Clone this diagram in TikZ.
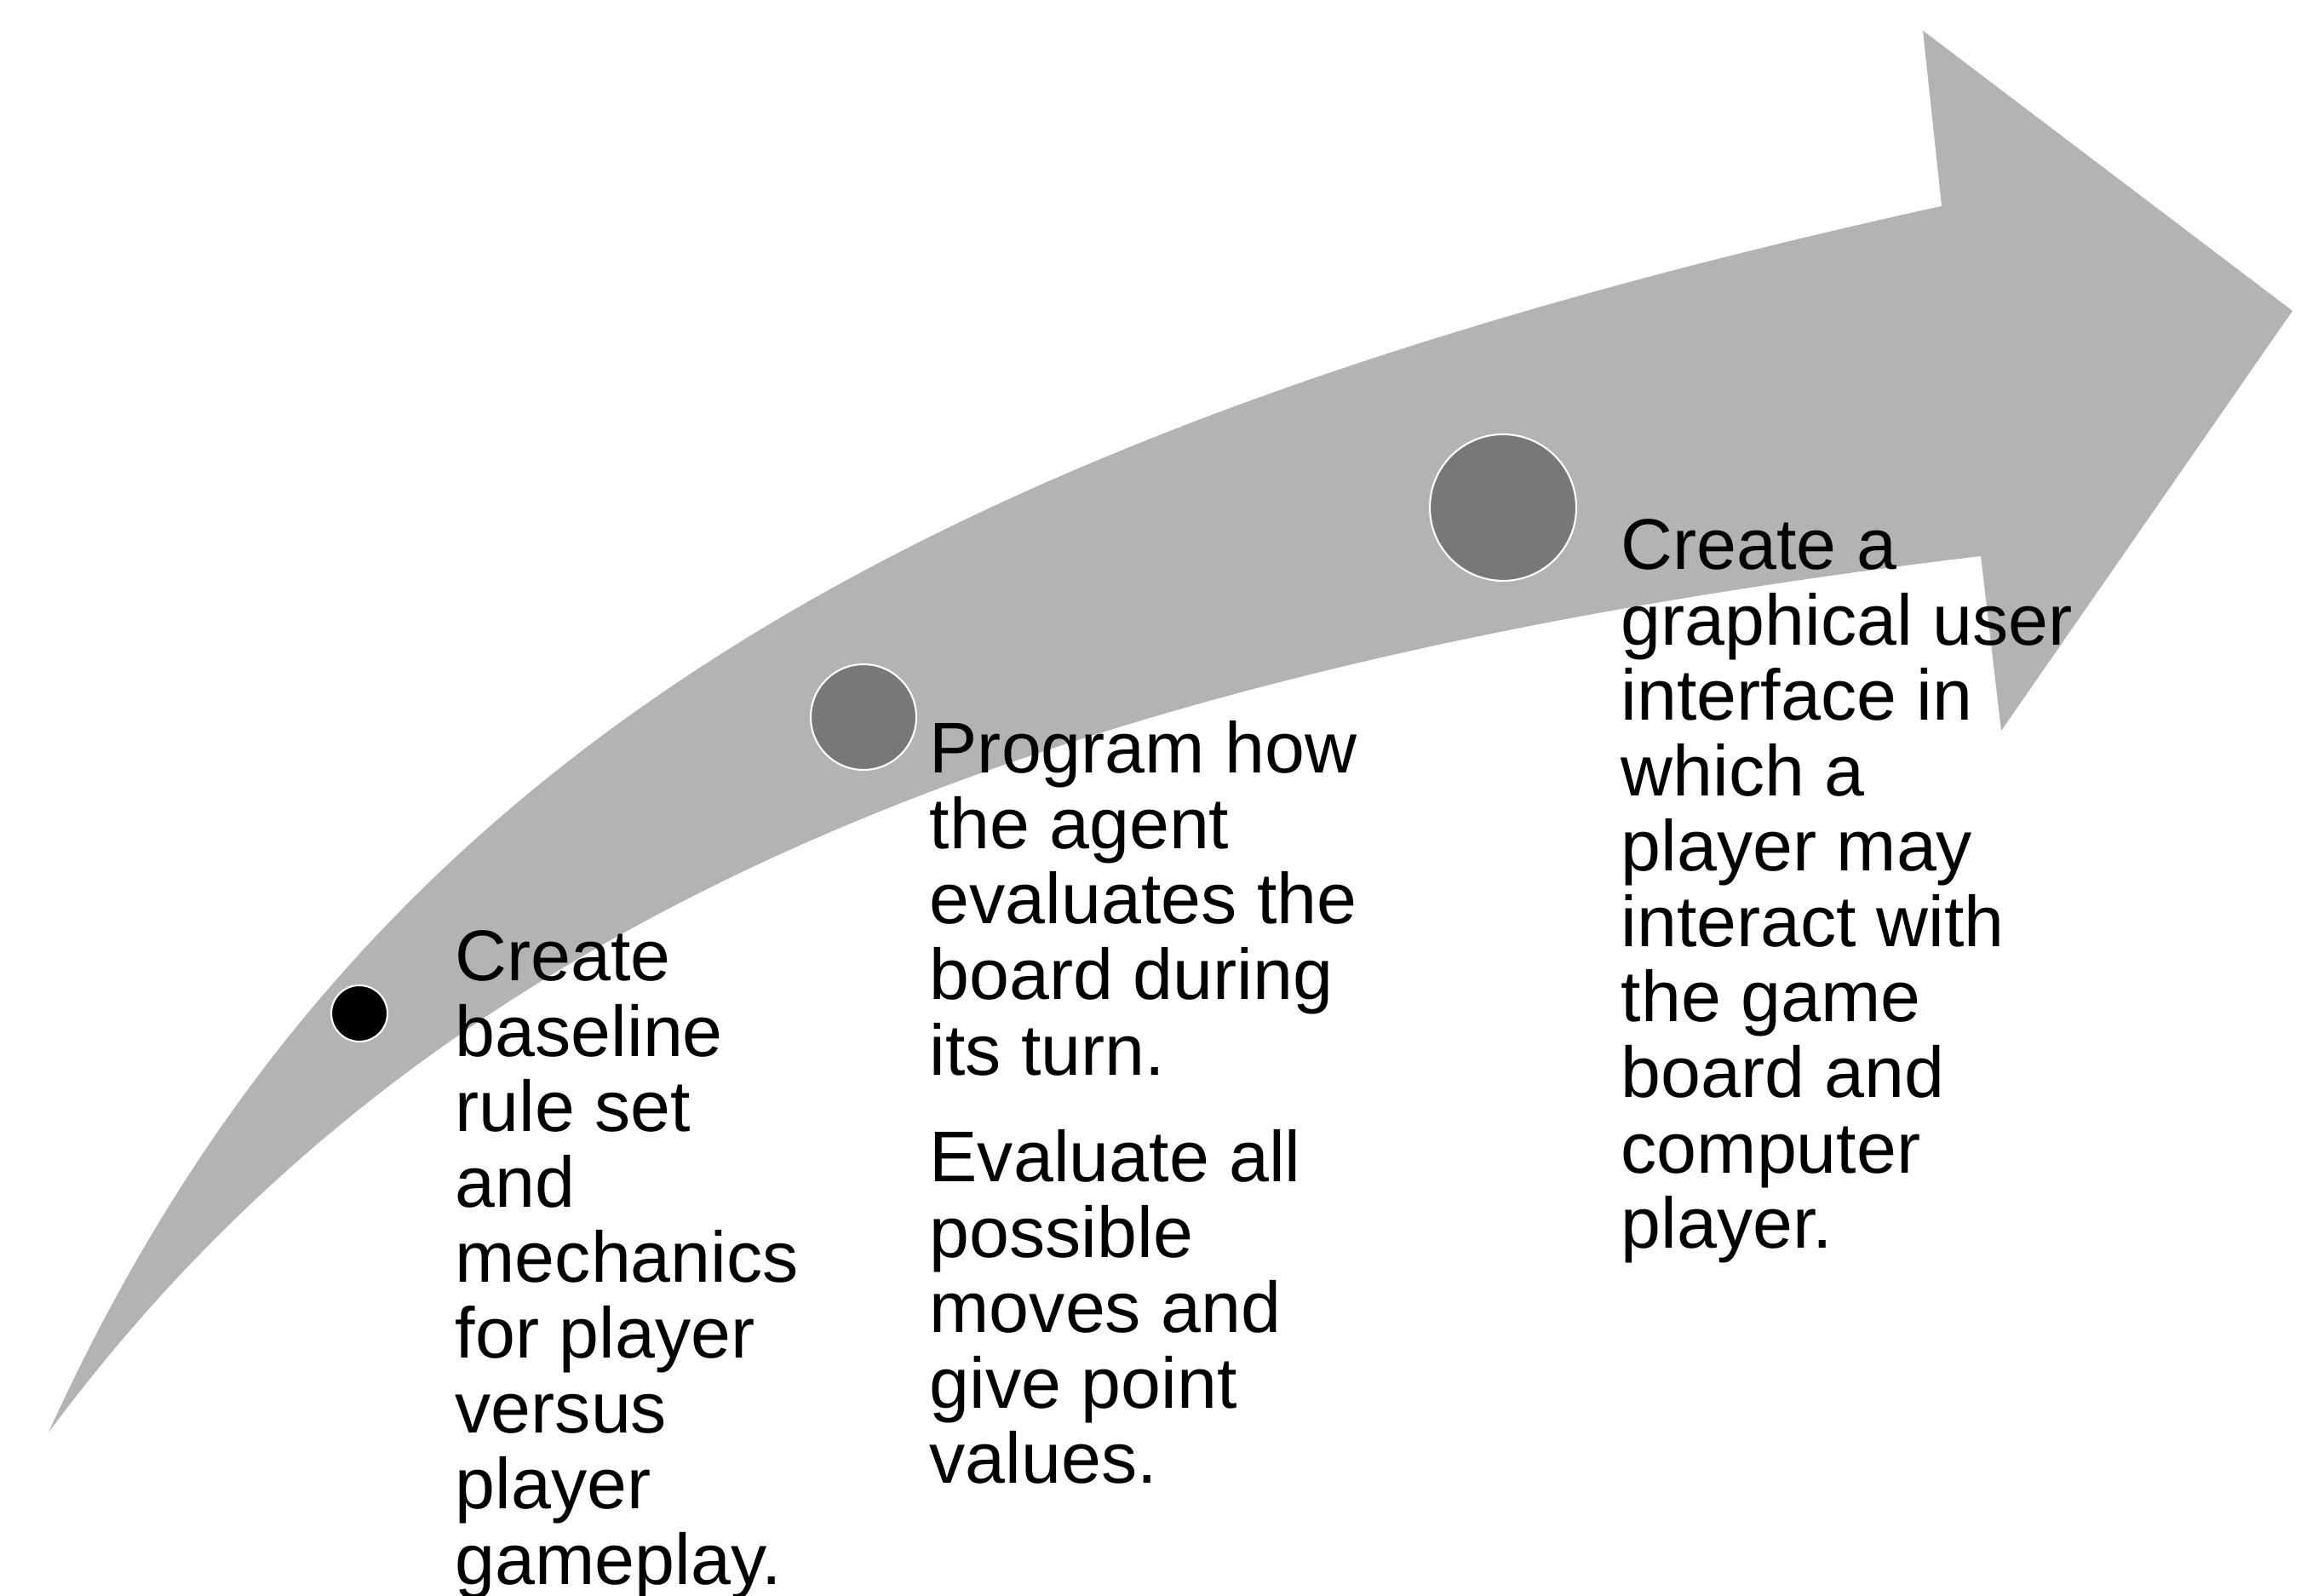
\documentclass[tikz,border=0pt]{standalone}
\usepackage{fontspec}
\setmainfont{Liberation Sans}
\usetikzlibrary{positioning}
\definecolor{arrgray}{HTML}{B3B3B3}
\definecolor{dotgray}{HTML}{787878}

\tikzset{
  milestone/.style={circle, draw=white, line width=0.6pt, inner sep=0pt},
  steptext/.style={anchor=north west, inner sep=0pt, align=left,
    font=\fontsize{24}{25.2}\selectfont}
}

\begin{document}
\begin{tikzpicture}

\useasboundingbox (0,0) rectangle (27.22,18.74);

% Curved arrow: upper edge, head, lower edge back to the tail
\fill[arrgray] (0.57,1.92) .. controls (4.03,9.53) and (10.25,13.56) .. (22.80,16.32)
  -- (22.58,18.38) -- (26.92,15.09) -- (23.50,10.16) -- (23.26,12.21)
  .. controls (11.68,10.82) and (4.88,7.73) .. (0.57,1.92) -- cycle;

% Milestones along the arrow
\node[milestone, fill=black, minimum size=0.66cm] (dot1) at (4.22,6.84) {};
\node[milestone, fill=dotgray, minimum size=1.24cm] (dot2) at (10.14,10.32) {};
\node[milestone, fill=dotgray, minimum size=1.72cm] (dot3) at (17.65,12.78) {};

% Step descriptions
\node[steptext] (stage1) at (5.34,7.82)
  {Create\\baseline\\rule set\\and\\mechanics\\for player\\versus\\player\\gameplay.};
\node[steptext] (stage2) at (10.91,10.28)
  {Program how\\the agent\\evaluates the\\board during\\its turn.\\[10.5pt]
   Evaluate all\\possible\\moves and\\give point\\values.};
\node[steptext] (stage3) at (19.03,12.65)
  {Create a\\graphical user\\interface in\\which a\\player may\\interact with\\the game\\board and\\computer\\player.};

\end{tikzpicture}
\end{document}
